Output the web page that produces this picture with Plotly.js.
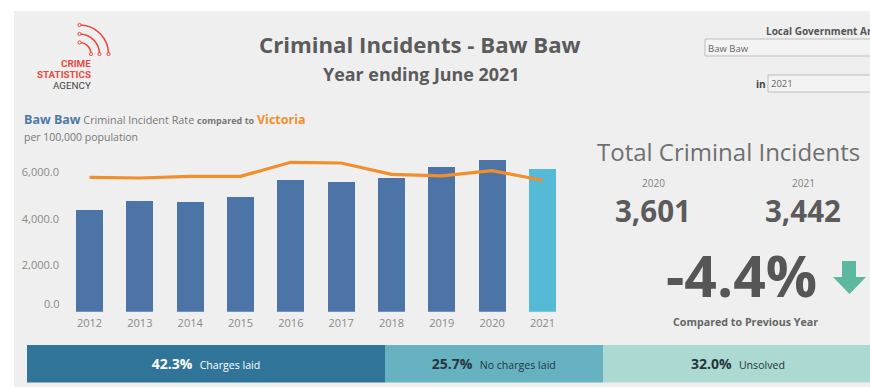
<!DOCTYPE html>
<html>
<head>
<meta charset="utf-8">
<script src="https://cdn.plot.ly/plotly-3.0.1.min.js"></script>
<style>html,body{margin:0;padding:0;background:#fff;overflow:hidden}</style>
</head>
<body>
<div id="chart" style="width:870px;height:387px"></div>
<script>
const years = [2012, 2013, 2014, 2015, 2016, 2017, 2018, 2019, 2020, 2021];
const bawBawRate = [4374, 4761, 4718, 4946, 5665, 5578, 5737, 6224, 6525, 6125];
const victoriaRate = [5780, 5750, 5824, 5824, 6426, 6396, 5910, 5841, 6065, 5652];
const rateTicks = [2000, 4000, 6000];
const rateTickLabels = ['2,000.0', '4,000.0', '6,000.0'];
const outcomeNames = ['Charges laid', 'No charges laid', 'Unsolved'];
const outcomeShares = [42.3, 25.7, 32.0];
const outcomeColors = ['#307599', '#66b2c1', '#acd9d1'];
const outcomeTextColors = ['#ffffff', '#26363c', '#26363c'];
const incidents2020 = '3,601';
const incidents2021 = '3,442';
const changeLabel = '-4.4%';

const W = 870, H = 387;
const px = v => v / W;
const py = v => 1 - v / H;

// Page text placed in page pixels through paper coordinates
function label(text, x, y, size, color, opts) {
  return Object.assign({
    text, xref: 'paper', yref: 'paper', x: px(x), y: py(y),
    xanchor: 'center', yanchor: 'middle', showarrow: false,
    font: {family: 'Open Sans', size, color}
  }, opts || {});
}

// Quarter ring of the logo, open towards the lower left
function arcPath(cx, cy, r) {
  const k = 0.5523 * r;
  const p = (x, y) => px(x) + ',' + py(y);
  return 'M' + p(cx, cy - r) + ' C' + p(cx + k, cy - r) + ' ' + p(cx + r, cy - k) + ' ' + p(cx + r, cy);
}

function polygon(points) {
  return 'M' + points.map(q => px(q[0]) + ',' + py(q[1])).join(' L') + ' Z';
}

const logoRed = '#e8493f';
const arcs = [[79.5, 54, 29], [79.5, 54, 20], [79.5, 54, 11.5]];
const shapes = [
  {type: 'rect', xref: 'paper', yref: 'paper', x0: px(14), x1: 1, y0: 0, y1: py(11),
   fillcolor: '#efefef', line: {width: 0}, layer: 'below'},
  {type: 'rect', xref: 'paper', yref: 'paper', x0: px(705), x1: 1.01, y0: py(56), y1: py(39),
   fillcolor: '#f3f3f3', line: {color: '#bdbdbd', width: 1}, layer: 'below'},
  {type: 'rect', xref: 'paper', yref: 'paper', x0: px(768), x1: 1.01, y0: py(92), y1: py(75),
   fillcolor: '#f3f3f3', line: {color: '#bdbdbd', width: 1}, layer: 'below'},
  {type: 'path', xref: 'paper', yref: 'paper', fillcolor: '#5cb8a0', line: {width: 0},
   path: polygon([[842, 261], [856, 261], [856, 277], [866, 277], [849.5, 294], [833, 277], [842, 277]])}
];
arcs.forEach(a => shapes.push({
  type: 'path', xref: 'paper', yref: 'paper', path: arcPath(a[0], a[1], a[2]),
  line: {color: logoRed, width: 1.5}
}));
[[79.5, 25], [79.5, 34], [79.5, 42.5], [108.5, 54], [99.5, 54], [91, 54]].forEach(c => shapes.push({
  type: 'circle', xref: 'paper', yref: 'paper',
  x0: px(c[0] - 1.6), x1: px(c[0] + 1.6), y0: py(c[1] + 1.6), y1: py(c[1] - 1.6),
  fillcolor: '#efefef', line: {color: logoRed, width: 1}
}));

const gray = '#5b5b5b';
const logoFont = (color) => ({family: 'Roboto', size: 9.8, color});
const annotations = [
  label('<b>CRIME</b>', 93, 63.5, 9.8, logoRed, {xanchor: 'right', font: logoFont(logoRed)}),
  label('<b>STATISTICS</b>', 93, 74, 9.8, logoRed, {xanchor: 'right', font: logoFont(logoRed)}),
  label('AGENCY', 93, 85, 9.8, '#444444', {xanchor: 'right', font: logoFont('#444444')}),
  label('<b>Criminal Incidents - Baw Baw</b>', 420, 45, 22.2, gray),
  label('<b>Year ending June 2021</b>', 421, 74, 17.9, gray),
  label('<span style="color:#4e79a7;font-size:12.5px"><b>Baw Baw</b></span> Criminal Incident Rate <span style="font-size:9px"><b>compared to</b></span> <span style="color:#f28e2b;font-size:12.5px"><b>Victoria</b></span>',
        22, 119, 10.8, '#777777', {xanchor: 'left'}),
  label('per 100,000 population', 22, 137, 10.5, '#777777', {xanchor: 'left'}),
  label('<b>Local Government Area</b>', 764, 31, 10, '#555555', {xanchor: 'left'}),
  label('Baw Baw', 706, 48, 9.5, '#666666', {xanchor: 'left'}),
  label('<b>in</b>', 768, 84, 10, '#444444', {xanchor: 'right'}),
  label('2021', 769, 84, 9.5, '#666666', {xanchor: 'left'}),
  label('Total Criminal Incidents', 728, 151, 24, '#6f6f6f'),
  label('2020', 653, 183, 10, '#808080'),
  label('2021', 803, 183, 10, '#808080'),
  label('<b>' + incidents2020 + '</b>', 652.5, 210.5, 29.5, gray),
  label('<b>' + incidents2021 + '</b>', 802.5, 210.5, 29.5, gray),
  label('<b>' + changeLabel + '</b>', 741, 275, 57, '#565656'),
  label('<b>Compared to Previous Year</b>', 745, 322, 10.7, '#666666'),
  {text: '0.0', xref: 'paper', yref: 'y', x: px(61), y: 0, yshift: 8, xanchor: 'right', yanchor: 'middle',
   showarrow: false, font: {family: 'Open Sans', size: 11, color: '#8a8a8a'}}
];

const traces = [
  {type: 'bar', x: years, y: bawBawRate, width: 0.54,
   marker: {color: years.map(y => y === 2021 ? '#55bad6' : '#4c74a6')}, hoverinfo: 'x+y'},
  {type: 'scatter', mode: 'lines', x: years, y: victoriaRate,
   line: {color: '#f28e2b', width: 3.2}, hoverinfo: 'x+y'}
];
// Outcome split along the bottom, one stacked segment per outcome
outcomeNames.forEach((name, i) => traces.push({
  type: 'bar', orientation: 'h', xaxis: 'x2', yaxis: 'y2', y: ['Outcome'], x: [outcomeShares[i]], width: 1,
  marker: {color: outcomeColors[i]}, hoverinfo: 'name+x', name,
  text: ['<b>' + outcomeShares[i].toFixed(1) + '%</b>  <span style="font-size:10.6px">' + name + '</span>'],
  textposition: 'inside', insidetextanchor: 'middle', textangle: 0, constraintext: 'none',
  insidetextfont: {family: 'Open Sans', size: 14, color: outcomeTextColors[i]}
}));

const layout = {
  width: W, height: H, margin: {l: 0, r: 0, t: 0, b: 0},
  paper_bgcolor: '#ffffff', plot_bgcolor: 'rgba(0,0,0,0)',
  showlegend: false, barmode: 'stack', shapes, annotations,
  xaxis: {domain: [px(64), px(568)], range: [2011.493, 2021.507], tickvals: years, ticktext: years.map(String),
          showgrid: false, zeroline: false, showline: false, ticks: '', ticklabelstandoff: 3,
          tickfont: {family: 'Open Sans', size: 11, color: '#8a8a8a'}},
  yaxis: {domain: [py(311.7), py(155)], range: [0, 6740], tickvals: rateTicks, ticktext: rateTickLabels,
          showgrid: false, zeroline: false, showline: false, ticks: '', ticklabelstandoff: 4,
          tickfont: {family: 'Open Sans', size: 11, color: '#8a8a8a'}},
  xaxis2: {domain: [px(27), 1], range: [0, 99.6], anchor: 'y2', visible: false},
  yaxis2: {domain: [py(382.5), py(345)], anchor: 'x2', visible: false}
};

Plotly.newPlot('chart', traces, layout, {displayModeBar: false, staticPlot: true});
</script>
</body>
</html>
